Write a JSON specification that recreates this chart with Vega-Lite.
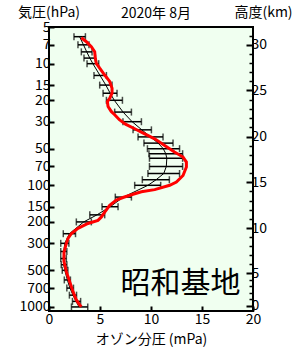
{
  "$schema": "https://vega.github.io/schema/vega-lite/v6.json",
  "width": 204,
  "height": 284,
  "autosize": "none",
  "padding": {"left": 49, "top": 27, "right": 47, "bottom": 39},
  "background": "white",
  "config": {
    "view": {"fill": "#F0FFF0", "stroke": "black", "strokeWidth": 2},
    "font": "Noto Sans CJK JP",
    "axis": {"labelFont": "Noto Sans CJK JP", "labelFontSize": 14, "labelColor": "black", "titleFont": "Noto Sans CJK JP", "titleFontSize": 14, "titleFontWeight": "normal", "titleColor": "black", "grid": false, "domain": false, "tickColor": "black", "labelFlush": false, "labelOverlap": false, "labelBound": false}
  },
  "title": {"text": "2020年 8月", "fontSize": 14, "fontWeight": "normal", "font": "Noto Sans CJK JP", "color": "black", "anchor": "middle", "dx": 5, "dy": 20},
  "datasets": {
    "clim": [
      {"p": 6, "mean": 3.0, "lo": 2.45, "hi": 3.57},
      {"p": 7, "mean": 3.38, "lo": 2.84, "hi": 3.92},
      {"p": 8, "mean": 3.7, "lo": 3.17, "hi": 4.22},
      {"p": 9, "mean": 4.0, "lo": 3.43, "hi": 4.55},
      {"p": 10, "mean": 4.3, "lo": 3.73, "hi": 4.87},
      {"p": 12.5, "mean": 5.0, "lo": 4.41, "hi": 5.63},
      {"p": 15, "mean": 5.57, "lo": 4.97, "hi": 6.18},
      {"p": 17.5, "mean": 6.0, "lo": 5.3, "hi": 6.67},
      {"p": 20, "mean": 6.4, "lo": 5.63, "hi": 7.2},
      {"p": 25, "mean": 7.26, "lo": 6.44, "hi": 8.08},
      {"p": 30, "mean": 8.15, "lo": 7.25, "hi": 9.06},
      {"p": 35, "mean": 9.1, "lo": 8.24, "hi": 10.04},
      {"p": 40, "mean": 9.95, "lo": 8.73, "hi": 11.18},
      {"p": 45, "mean": 10.7, "lo": 9.31, "hi": 12.16},
      {"p": 50, "mean": 11.2, "lo": 9.65, "hi": 12.8},
      {"p": 55, "mean": 11.45, "lo": 9.8, "hi": 13.1},
      {"p": 60, "mean": 11.55, "lo": 9.85, "hi": 13.1},
      {"p": 70, "mean": 11.5, "lo": 9.85, "hi": 13.1},
      {"p": 80, "mean": 11.25, "lo": 9.7, "hi": 12.8},
      {"p": 90, "mean": 10.5, "lo": 9.15, "hi": 11.8},
      {"p": 100, "mean": 9.7, "lo": 8.4, "hi": 10.95},
      {"p": 125, "mean": 7.3, "lo": 6.5, "hi": 8.08},
      {"p": 150, "mean": 6.0, "lo": 5.2, "hi": 6.77},
      {"p": 175, "mean": 4.7, "lo": 4.0, "hi": 5.46},
      {"p": 200, "mean": 3.4, "lo": 2.68, "hi": 4.15},
      {"p": 250, "mean": 2.0, "lo": 1.4, "hi": 2.6},
      {"p": 300, "mean": 1.55, "lo": 1.15, "hi": 1.95},
      {"p": 350, "mean": 1.45, "lo": 1.15, "hi": 1.75},
      {"p": 400, "mean": 1.4, "lo": 1.15, "hi": 1.7},
      {"p": 450, "mean": 1.45, "lo": 1.2, "hi": 1.75},
      {"p": 500, "mean": 1.55, "lo": 1.3, "hi": 1.85},
      {"p": 600, "mean": 1.8, "lo": 1.5, "hi": 2.1},
      {"p": 700, "mean": 2.05, "lo": 1.75, "hi": 2.4},
      {"p": 800, "mean": 2.35, "lo": 2.0, "hi": 2.7},
      {"p": 900, "mean": 2.65, "lo": 2.3, "hi": 3.1},
      {"p": 1000, "mean": 2.95, "lo": 2.2, "hi": 3.8}
    ],
    "obs": [
      {"p": 6.12, "o3": 3.17},
      {"p": 6.6, "o3": 3.66},
      {"p": 7.25, "o3": 4.15},
      {"p": 7.97, "o3": 4.48},
      {"p": 9.05, "o3": 4.54},
      {"p": 9.94, "o3": 4.64},
      {"p": 10.9, "o3": 4.97},
      {"p": 12.4, "o3": 5.46},
      {"p": 14.0, "o3": 5.95},
      {"p": 15.9, "o3": 6.18},
      {"p": 17.5, "o3": 6.18},
      {"p": 19.3, "o3": 5.95},
      {"p": 20.5, "o3": 5.72},
      {"p": 22.5, "o3": 5.79},
      {"p": 24.7, "o3": 6.1},
      {"p": 26.3, "o3": 6.44},
      {"p": 28.9, "o3": 6.9},
      {"p": 31.4, "o3": 7.5},
      {"p": 34.3, "o3": 8.4},
      {"p": 37.8, "o3": 9.38},
      {"p": 41.5, "o3": 10.36},
      {"p": 47, "o3": 11.34},
      {"p": 53.3, "o3": 12.3},
      {"p": 58.6, "o3": 13.14},
      {"p": 64.4, "o3": 13.47},
      {"p": 70.8, "o3": 13.47},
      {"p": 83, "o3": 13.14},
      {"p": 94, "o3": 12.49},
      {"p": 100, "o3": 11.83},
      {"p": 108.5, "o3": 10.36},
      {"p": 113, "o3": 9.06},
      {"p": 118.5, "o3": 8.24},
      {"p": 126, "o3": 7.25},
      {"p": 132.5, "o3": 6.6},
      {"p": 146, "o3": 5.95},
      {"p": 166, "o3": 5.46},
      {"p": 182, "o3": 5.14},
      {"p": 194, "o3": 4.8},
      {"p": 206, "o3": 3.82},
      {"p": 226, "o3": 2.84},
      {"p": 249, "o3": 2.2},
      {"p": 273, "o3": 1.86},
      {"p": 300, "o3": 1.7},
      {"p": 354, "o3": 1.47},
      {"p": 424, "o3": 1.47},
      {"p": 513, "o3": 1.7},
      {"p": 620, "o3": 2.03},
      {"p": 748, "o3": 2.35},
      {"p": 876, "o3": 2.68},
      {"p": 960, "o3": 3.0},
      {"p": 995, "o3": 3.17}
    ],
    "label": [{"p": 647, "o3": 12.9, "text": "昭和基地"}],
    "corner": [{"p": 3.85, "o3": 0, "text": "気圧(hPa)"}]
  },
  "resolve": {"scale": {"y": "shared"}, "axis": {"y": "independent"}},
  "layer": [
    {
      "data": {"name": "clim"},
      "mark": {"type": "rule", "color": "black", "strokeWidth": 1.5},
      "encoding": {
        "x": {"field": "lo", "type": "quantitative", "scale": {"domain": [0, 20], "nice": false, "zero": false},
              "axis": {"orient": "bottom", "values": [0, 5, 10, 15, 20], "tickSize": -5, "tickWidth": 2, "labelPadding": 6, "title": "オゾン分圧 (mPa)", "titlePadding": 6, "titleFontSize": 14}},
        "x2": {"field": "hi"},
        "y": {"field": "p", "type": "quantitative", "scale": {"type": "log", "domain": [4.995, 1080], "reverse": true, "nice": false},
              "axis": {"orient": "left", "values": [5, 7, 10, 15, 20, 30, 50, 70, 100, 150, 200, 300, 500, 700, 1000], "labelExpr": "format(datum.value, 'd')", "labelOverlap": false, "labelBound": false, "labelFlush": false, "labelBaseline": "middle", "tickSize": -5, "tickWidth": 2, "labelPadding": 4, "title": null}}
      }
    },
    {
      "data": {"name": "clim"},
      "mark": {"type": "tick", "orient": "vertical", "color": "black", "thickness": 1.5, "size": 7},
      "encoding": {
        "x": {"field": "lo", "type": "quantitative", "scale": {"domain": [0, 20], "nice": false, "zero": false}},
        "y": {"field": "p", "type": "quantitative", "scale": {"type": "log", "domain": [4.995, 1080], "reverse": true, "nice": false}, "axis": null}
      }
    },
    {
      "data": {"name": "clim"},
      "mark": {"type": "tick", "orient": "vertical", "color": "black", "thickness": 1.5, "size": 7},
      "encoding": {
        "x": {"field": "hi", "type": "quantitative", "scale": {"domain": [0, 20], "nice": false, "zero": false}},
        "y": {"field": "p", "type": "quantitative", "scale": {"type": "log", "domain": [4.995, 1080], "reverse": true, "nice": false}, "axis": null}
      }
    },
    {
      "data": {"name": "clim"},
      "mark": {"type": "line", "color": "black", "strokeWidth": 1},
      "encoding": {
        "x": {"field": "mean", "type": "quantitative", "scale": {"domain": [0, 20], "nice": false, "zero": false}},
        "y": {"field": "p", "type": "quantitative", "scale": {"type": "log", "domain": [4.995, 1080], "reverse": true, "nice": false},
              "axis": {"orient": "right", "values": [981.3, 526.4, 225.2, 94.5, 39.7, 16.6, 6.99], "labelExpr": "datum.value > 900 ? '0' : datum.value > 500 ? '5' : datum.value > 200 ? '10' : datum.value > 90 ? '15' : datum.value > 30 ? '20' : datum.value > 10 ? '25' : '30'", "labelBaseline": "middle", "tickSize": -7, "tickWidth": 2, "labelPadding": 5, "title": "高度(km)", "titleAngle": 0, "titleX": 10, "titleY": -15, "titleAlign": "center", "titleBaseline": "middle"}},
        "order": {"field": "p", "type": "quantitative"}
      }
    },
    {
      "data": {"name": "obs"},
      "mark": {"type": "line", "color": "#FF0000", "strokeWidth": 3},
      "encoding": {
        "x": {"field": "o3", "type": "quantitative", "scale": {"domain": [0, 20], "nice": false, "zero": false}},
        "y": {"field": "p", "type": "quantitative", "scale": {"type": "log", "domain": [4.995, 1080], "reverse": true, "nice": false},
              "axis": {"orient": "right", "values": [866.1, 764.9, 675.2, 596.3, 444.1, 374.8, 316.2, 266.8, 189.2, 159.1, 133.7, 112.4, 79.4, 66.8, 56.1, 47.2, 33.3, 28.0, 23.6, 19.8, 14.0, 11.8, 9.89, 8.31, 5.87], "labels": false, "tickSize": -4, "tickWidth": 1.5, "title": null}},
        "order": {"field": "p", "type": "quantitative"}
      }
    },
    {
      "data": {"name": "label"},
      "mark": {"type": "text", "fontSize": 30, "font": "Noto Sans CJK JP", "color": "black", "align": "center", "baseline": "middle"},
      "encoding": {
        "x": {"field": "o3", "type": "quantitative", "scale": {"domain": [0, 20], "nice": false, "zero": false}},
        "y": {"field": "p", "type": "quantitative", "scale": {"type": "log", "domain": [4.995, 1080], "reverse": true, "nice": false}, "axis": null},
        "text": {"field": "text"}
      }
    },
    {
      "data": {"name": "corner"},
      "mark": {"type": "text", "fontSize": 14, "font": "Noto Sans CJK JP", "color": "black", "align": "center", "baseline": "middle", "clip": false},
      "encoding": {
        "x": {"field": "o3", "type": "quantitative", "scale": {"domain": [0, 20], "nice": false, "zero": false}},
        "y": {"field": "p", "type": "quantitative", "scale": {"type": "log", "domain": [4.995, 1080], "reverse": true, "nice": false}, "axis": null},
        "text": {"field": "text"}
      }
    }
  ]
}
